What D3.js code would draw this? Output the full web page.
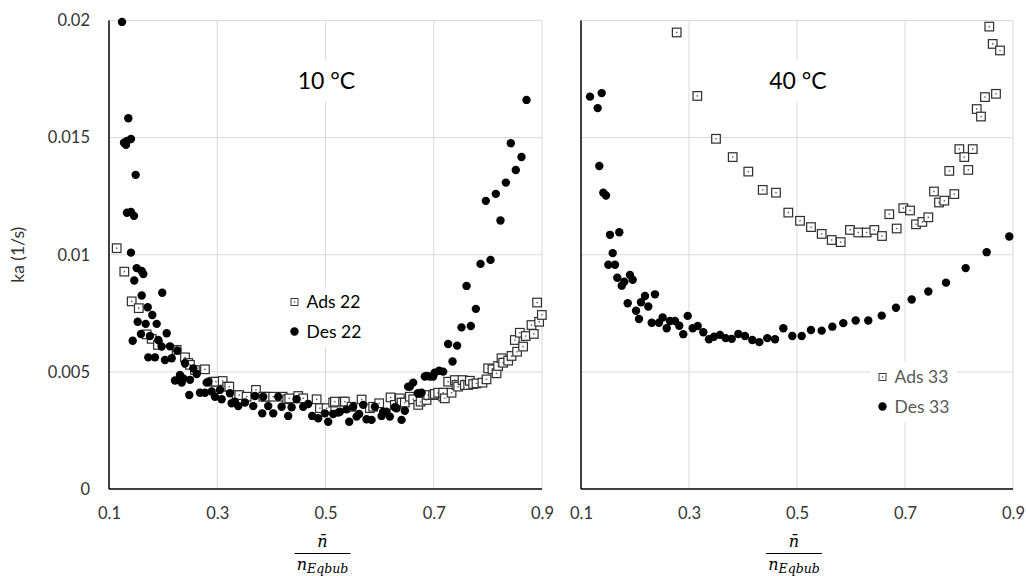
<!DOCTYPE html>
<html>
<head>
<meta charset="utf-8">
<script src="https://cdn.jsdelivr.net/npm/d3@7"></script>
<style>
  body { margin: 0; background: #fff; }
  svg { display: block; font-family: Lato, "Open Sans", sans-serif; }
</style>
</head>
<body>
<div id="chart"></div>
<script>
// tick values shared by both panels
var xTicks = [0.1, 0.3, 0.5, 0.7, 0.9];
var yTicks = [0, 0.005, 0.01, 0.015, 0.02];

// 10 °C, adsorption [n/nEqbub, ka]
var ads22 = [[0.1142,0.01028],[0.1283,0.00928],[0.1419,0.00801],[0.155,0.00772],[0.1696,0.0066],[0.1789,0.00641],
  [0.1905,0.00615],[0.225,0.00594],[0.2404,0.00562],[0.2464,0.00538],[0.2496,0.0053],[0.2588,0.00508],[0.2773,0.00511],
  [0.2926,0.00458],[0.2976,0.00458],[0.31,0.00461],[0.3185,0.00437],[0.3222,0.00437],[0.3358,0.00401],[0.3406,0.00401],
  [0.3543,0.00394],[0.3715,0.00423],[0.385,0.00394],[0.3899,0.00394],[0.4034,0.00394],[0.4208,0.00394],[0.4293,0.00383],
  [0.433,0.00387],[0.4496,0.00397],[0.4588,0.00387],[0.4836,0.00383],[0.4897,0.00345],[0.502,0.00345],[0.5142,0.00369],
  [0.5174,0.00373],[0.5327,0.00373],[0.5358,0.00373],[0.5482,0.00351],[0.5667,0.00382],[0.582,0.00345],[0.5881,0.00351],
  [0.5992,0.00366],[0.6202,0.00391],[0.6281,0.00359],[0.6374,0.00387],[0.6405,0.00369],[0.6466,0.00369],[0.6559,0.00394],
  [0.662,0.00383],[0.6713,0.00359],[0.6757,0.00373],[0.6867,0.0038],[0.6897,0.00401],[0.6989,0.00401],[0.702,0.00406],
  [0.7082,0.00411],[0.7174,0.00394],[0.7174,0.00411],[0.7205,0.00387],[0.7266,0.00458],[0.7329,0.00411],[0.739,0.00465],
  [0.742,0.00444],[0.7451,0.00437],[0.7532,0.00465],[0.7574,0.00444],[0.7636,0.00444],[0.7667,0.00462],[0.7728,0.00448],
  [0.779,0.00451],[0.79,0.00454],[0.7975,0.00468],[0.8005,0.00515],[0.8085,0.00511],[0.816,0.00494],[0.8189,0.00525],
  [0.8252,0.00558],[0.8282,0.00539],[0.8375,0.00548],[0.8437,0.00568],[0.8498,0.00636],[0.854,0.00586],[0.859,0.00667],
  [0.8651,0.00608],[0.87,0.00653],[0.8806,0.007],[0.8849,0.00662],[0.891,0.00796],[0.8947,0.00714],[0.8997,0.00743]];

// 10 °C, desorption
var des22 = [[0.124,0.01994],[0.1357,0.01583],[0.1277,0.01478],[0.1332,0.01486],[0.1406,0.01494],[0.1314,0.01469],
  [0.1493,0.01341],[0.1332,0.01179],[0.1406,0.01183],[0.1462,0.01166],[0.1406,0.01009],[0.1512,0.00943],[0.1604,0.00931],
  [0.1634,0.00918],[0.1467,0.0089],[0.1604,0.00826],[0.1984,0.00838],[0.1715,0.00776],[0.18,0.00743],[0.153,0.00714],
  [0.1678,0.00705],[0.1881,0.00705],[0.1438,0.00633],[0.1591,0.00662],[0.1757,0.00653],[0.2066,0.00665],[0.191,0.00636],
  [0.1973,0.00608],[0.2127,0.00609],[0.2261,0.00591],[0.1726,0.00562],[0.185,0.00562],[0.2034,0.00551],[0.2158,0.00558],
  [0.2404,0.00537],[0.2557,0.00515],[0.2311,0.00487],[0.2219,0.00463],[0.2343,0.00454],[0.2496,0.00466],[0.262,0.00491],
  [0.2372,0.00472],[0.2834,0.00458],[0.2483,0.00401],[0.2681,0.00411],[0.2804,0.00454],[0.2773,0.00411],[0.2897,0.00416],
  [0.305,0.00423],[0.2958,0.00394],[0.3081,0.00383],[0.3235,0.00409],[0.3266,0.00366],[0.3327,0.00373],[0.3388,0.00354],
  [0.3512,0.00369],[0.3696,0.00397],[0.3665,0.00354],[0.385,0.00394],[0.3942,0.00354],[0.3831,0.00323],[0.4034,0.00323],
  [0.4127,0.00394],[0.4189,0.00351],[0.4311,0.00312],[0.4374,0.00349],[0.4466,0.00383],[0.4588,0.00351],[0.468,0.00363],
  [0.4754,0.00312],[0.4865,0.00302],[0.4989,0.00323],[0.505,0.00287],[0.5142,0.0032],[0.5235,0.00326],[0.5266,0.0033],
  [0.539,0.0034],[0.5438,0.00287],[0.5511,0.00351],[0.5574,0.00309],[0.5622,0.0032],[0.5696,0.00359],[0.5759,0.00298],
  [0.5851,0.00295],[0.5912,0.00351],[0.6036,0.00312],[0.6066,0.0033],[0.6128,0.0033],[0.6189,0.00309],[0.6282,0.00349],
  [0.6313,0.00345],[0.6405,0.00295],[0.6466,0.00334],[0.6527,0.00437],[0.6559,0.00437],[0.662,0.00454],[0.6707,0.00409],
  [0.6775,0.00411],[0.6836,0.0048],[0.6867,0.00483],[0.6928,0.0048],[0.6989,0.0048],[0.702,0.00497],[0.71,0.00505],
  [0.7174,0.00501],[0.7266,0.00619],[0.7347,0.00544],[0.7432,0.00612],[0.7513,0.0069],[0.7606,0.00867],[0.7685,0.00696],
  [0.7778,0.00769],[0.7864,0.00961],[0.7962,0.0123],[0.8049,0.00978],[0.8147,0.0126],[0.8233,0.01146],[0.8332,0.01308],
  [0.8424,0.01476],[0.8516,0.01362],[0.8621,0.01417],[0.8714,0.01661]];

// 40 °C, adsorption
var ads33 = [[0.2772,0.01949],[0.3154,0.01678],[0.35,0.01495],[0.3809,0.01417],[0.4098,0.01355],[0.4365,0.01277],
  [0.4611,0.01265],[0.4839,0.0118],[0.5056,0.01145],[0.5259,0.01118],[0.5457,0.01089],[0.5643,0.01063],[0.5809,0.01054],
  [0.5981,0.01106],[0.6135,0.01095],[0.6291,0.01095],[0.6432,0.01106],[0.6574,0.0108],[0.6709,0.01173],[0.6846,0.01112],
  [0.6969,0.01199],[0.7093,0.01189],[0.7204,0.0113],[0.7321,0.0114],[0.7432,0.0116],[0.7537,0.0127],[0.763,0.01223],
  [0.7728,0.01231],[0.7913,0.01259],[0.782,0.01358],[0.8006,0.01451],[0.8098,0.01417],[0.8254,0.01451],[0.8172,0.01362],
  [0.8328,0.01622],[0.8407,0.0159],[0.8481,0.01673],[0.8685,0.01687],[0.8561,0.01974],[0.8624,0.019],[0.8759,0.01872]];

// 40 °C, desorption
var des33 = [[0.1167,0.01675],[0.1383,0.0169],[0.1309,0.01626],[0.1339,0.01379],[0.1413,0.01265],[0.1463,0.01253],
  [0.1537,0.01085],[0.1709,0.01096],[0.1587,0.01007],[0.1506,0.00957],[0.163,0.00957],[0.1672,0.00902],[0.1907,0.00914],
  [0.1957,0.00893],[0.1802,0.00885],[0.1754,0.00868],[0.1865,0.00793],[0.2019,0.00761],[0.2074,0.00726],[0.2111,0.00797],
  [0.2185,0.00824],[0.2246,0.00779],[0.237,0.00831],[0.2309,0.0071],[0.2444,0.0071],[0.2512,0.00732],[0.2587,0.00686],
  [0.2648,0.00717],[0.2741,0.00717],[0.282,0.00697],[0.2894,0.00661],[0.2976,0.00739],[0.3069,0.00686],[0.3161,0.00696],
  [0.3265,0.00669],[0.337,0.00639],[0.3463,0.0065],[0.3574,0.00658],[0.368,0.00644],[0.3791,0.00641],[0.3913,0.00662],
  [0.4037,0.00653],[0.4172,0.00636],[0.4302,0.00627],[0.445,0.00644],[0.4593,0.00639],[0.4747,0.00686],[0.4913,0.00653],
  [0.5087,0.00653],[0.5259,0.00679],[0.5457,0.00676],[0.5654,0.00693],[0.5857,0.00708],[0.6087,0.00719],[0.632,0.00719],
  [0.6569,0.0074],[0.6833,0.00774],[0.7124,0.00809],[0.7432,0.00843],[0.7759,0.00881],[0.8124,0.00943],[0.8513,0.01011],
  [0.8931,0.01078]];

var width = 1026, height = 576;
var plotTop = 20.5, plotBottom = 489;

var svg = d3.select("#chart").append("svg")
  .attr("width", width)
  .attr("height", height);

var y = d3.scaleLinear().domain([0, 0.02]).range([plotBottom, plotTop]);

function drawPanel(left, right, ads, des, o) {
  var x = d3.scaleLinear().domain([0.1, 0.9]).range([left, right]);
  var g = svg.append("g");

  // gridlines
  g.selectAll(".vgrid").data(xTicks.slice(1)).enter().append("line")
    .attr("x1", function(d) { return x(d); }).attr("x2", function(d) { return x(d); })
    .attr("y1", plotTop).attr("y2", plotBottom)
    .attr("stroke", "#d9d9d9").attr("stroke-width", 1);
  g.selectAll(".hgrid").data(yTicks.slice(1)).enter().append("line")
    .attr("x1", left).attr("x2", right)
    .attr("y1", function(d) { return y(d); }).attr("y2", function(d) { return y(d); })
    .attr("stroke", "#d9d9d9").attr("stroke-width", 1);

  // x tick labels
  var xa = g.append("g")
    .attr("transform", "translate(0," + plotBottom + ")")
    .call(d3.axisBottom(x).tickValues(xTicks).tickSize(0).tickPadding(18).tickFormat(d3.format(".1f")));
  xa.select(".domain").remove();
  xa.selectAll("text").attr("font-size", 16.5).attr("fill", "#333").attr("font-family", "Lato, sans-serif");

  if (o.yLabels) {
    var ya = g.append("g")
      .attr("transform", "translate(" + left + ",0)")
      .call(d3.axisLeft(y).tickValues(yTicks).tickSize(0).tickPadding(19)
        .tickFormat(function(d) { return d === 0 ? "0" : String(+d.toFixed(3)); }));
    ya.select(".domain").remove();
    ya.selectAll("text").attr("font-size", 16.5).attr("fill", "#333").attr("font-family", "Lato, sans-serif");
  }

  // axis lines
  g.append("line").attr("x1", left).attr("x2", left).attr("y1", plotTop).attr("y2", plotBottom)
    .attr("stroke", "#000").attr("stroke-width", 1.5);
  g.append("line").attr("x1", left).attr("x2", right).attr("y1", plotBottom).attr("y2", plotBottom)
    .attr("stroke", "#000").attr("stroke-width", 1.5);

  // temperature label with white box
  var tx = x(0.5) + 1;
  g.append("rect").attr("x", tx - 30).attr("y", 60).attr("width", 60).attr("height", 42).attr("fill", "#fff");
  g.append("text").attr("x", tx).attr("y", 89).attr("text-anchor", "middle")
    .attr("font-size", 23).attr("fill", "#000").text(o.temp);

  // markers: squares first, circles on top
  var sq = g.selectAll(".ads").data(ads).enter().append("g")
    .attr("transform", function(d) { return "translate(" + x(d[0]) + "," + y(d[1]) + ")"; });
  sq.append("rect").attr("x", -4.3).attr("y", -4.3).attr("width", 8.6).attr("height", 8.6)
    .attr("fill", "#fff").attr("stroke", "#2e2e2e").attr("stroke-width", 1.2);
  sq.append("rect").attr("x", -0.7).attr("y", -0.7).attr("width", 1.4).attr("height", 1.4).attr("fill", "#555");

  g.selectAll(".des").data(des).enter().append("circle")
    .attr("cx", function(d) { return x(d[0]); })
    .attr("cy", function(d) { return y(d[1]); })
    .attr("r", 4.2).attr("fill", "#000");

  // legend
  var lg = o.legend;
  g.append("rect").attr("x", lg.x - 12).attr("y", lg.y - 15).attr("width", lg.w).attr("height", 60).attr("fill", "#fff");
  var items = [{ name: o.names[0], sym: "sq" }, { name: o.names[1], sym: "ci" }];
  items.forEach(function(it, i) {
    var cy = lg.y + i * 29.5;
    if (it.sym === "sq") {
      g.append("rect").attr("x", lg.x - 3.5).attr("y", cy - 3.5).attr("width", 7).attr("height", 7)
        .attr("fill", "#fff").attr("stroke", "#3a3a3a").attr("stroke-width", 1);
      g.append("rect").attr("x", lg.x - 0.7).attr("y", cy - 0.7).attr("width", 1.4).attr("height", 1.4).attr("fill", "#555");
    } else {
      g.append("circle").attr("cx", lg.x).attr("cy", cy).attr("r", 4.2).attr("fill", "#000");
    }
    g.append("text").attr("x", lg.x + 12).attr("y", cy + 6.3)
      .attr("font-size", 17.5).attr("fill", lg.color).text(it.name);
  });

  // x axis title: fraction n-bar over n_Eqbub
  var cx = x(0.5) - 3;
  g.append("text").attr("x", cx).attr("y", 547).attr("text-anchor", "middle")
    .attr("font-family", "'DejaVu Serif', serif").attr("font-style", "italic").attr("font-size", 16)
    .text("n\u0304");
  g.append("line").attr("x1", cx - 28).attr("x2", cx + 28).attr("y1", 553.5).attr("y2", 553.5)
    .attr("stroke", "#000").attr("stroke-width", 1.2);
  var den = g.append("text").attr("x", cx).attr("y", 570).attr("text-anchor", "middle")
    .attr("font-family", "'DejaVu Serif', serif").attr("font-style", "italic").attr("font-size", 16);
  den.append("tspan").text("n");
  den.append("tspan").attr("font-size", 12.5).attr("dy", 3).text("Eqbub");
}

drawPanel(109, 542, ads22, des22, {
  yLabels: true, temp: "10 °C", names: ["Ads 22", "Des 22"],
  legend: { x: 294.5, y: 302, w: 80, color: "#000" }
});
drawPanel(581, 1013, ads33, des33, {
  yLabels: false, temp: "40 °C", names: ["Ads 33", "Des 33"],
  legend: { x: 882.5, y: 377, w: 86, color: "#595959" }
});

// y axis title
svg.append("text")
  .attr("transform", "translate(24," + (plotTop + plotBottom) / 2 + ") rotate(-90)")
  .attr("text-anchor", "middle")
  .attr("font-size", 17.5).attr("fill", "#333")
  .text("ka (1/s)");
</script>
</body>
</html>
